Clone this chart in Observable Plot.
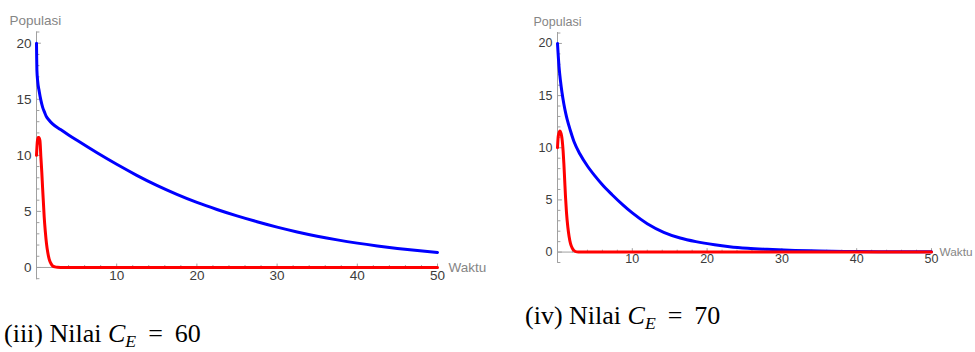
<!DOCTYPE html>
<html><head><meta charset="utf-8">
<script src="https://cdn.jsdelivr.net/npm/d3@7"></script>
<script src="https://cdn.jsdelivr.net/npm/@observablehq/plot@0.6"></script>
<style>
body{margin:0;background:#fff;}
#wrap{position:relative;width:975px;height:352px;overflow:hidden;background:#fff;}
.panel{position:absolute;top:0;}
.cap{position:absolute;font-family:"Liberation Serif","Times New Roman",serif;font-size:26px;line-height:26px;color:#000;white-space:nowrap;}
.cap i{font-style:italic;}
.cap sub{font-size:0.68em;vertical-align:-0.3em;line-height:0;}
.cap .eq{margin:0 12px;}
</style></head><body>
<div id="wrap">
 <div id="p1" class="panel" style="left:0px"></div>
 <div id="p2" class="panel" style="left:500px"></div>
 <div class="cap" style="left:4px;top:321px">(iii) Nilai <i>C</i><sub><i>E</i></sub><span class="eq">=</span>60</div>
 <div class="cap" style="left:525px;top:303px">(iv) Nilai <i>C</i><sub><i>E</i></sub><span class="eq">=</span>70</div>
</div>
<script>
// ---- Panel (iii): C_E = 60 ----
const tBlue60 = [0, 0.02, 0.05, 0.15, 0.34, 0.55, 0.76, 1.0, 1.2, 1.5, 2.0, 3, 4, 5, 7.5, 10, 12.5, 15, 17.5, 20, 22.5, 25, 27.5, 30, 32.5, 35, 37.5, 40, 42.5, 45, 47.5, 50];
const vBlue60 = [20, 18.8, 17.6, 16.6, 15.7, 14.9, 14.3, 13.85, 13.5, 13.2, 12.8, 12.3, 11.82, 11.36, 10.25, 9.2, 8.22, 7.32, 6.52, 5.8, 5.17, 4.6, 4.08, 3.6, 3.17, 2.79, 2.46, 2.17, 1.92, 1.7, 1.51, 1.34];
const tRed60 = [0, 0.1, 0.2, 0.3, 0.43, 0.55, 0.66, 0.76, 0.86, 0.96, 1.1, 1.25, 1.4, 1.58, 1.8, 2.0, 2.3, 2.6, 3, 5, 10, 20, 30, 40, 50];
const vRed60 = [10, 11.2, 11.6, 11.6, 11.3, 9.8, 8.5, 7.1, 5.8, 4.5, 3.2, 2.1, 1.35, 0.75, 0.35, 0.15, 0.05, 0.01, 0, 0, 0, 0, 0, 0, 0];

// ---- Panel (iv): C_E = 70 ----
const tBlue70 = [0, 0.2, 0.4, 0.6, 0.85, 1.1, 1.3, 1.7, 2.2, 3, 4, 5, 6, 7.3, 8.7, 10, 12, 14.2, 16.4, 18.5, 21, 23, 25.4, 28, 31, 35, 40, 45, 50];
const vBlue70 = [20, 17.8, 16.4, 15.3, 14.2, 13.3, 12.7, 11.7, 10.6, 9.4, 8.25, 7.3, 6.45, 5.5, 4.55, 3.75, 2.72, 1.9, 1.35, 1.0, 0.7, 0.52, 0.37, 0.26, 0.17, 0.1, 0.055, 0.03, 0.02];
const tRed70 = [0, 0.1, 0.3, 0.5, 0.63, 0.75, 0.85, 0.96, 1.07, 1.2, 1.38, 1.55, 1.74, 2.0, 2.2, 2.6, 3, 5, 10, 20, 30, 40, 50];
const vRed70 = [10, 11.1, 11.6, 11.3, 10.7, 9.7, 8.5, 6.9, 5.3, 3.8, 2.4, 1.5, 0.8, 0.35, 0.15, 0.02, 0, 0, 0, 0, 0, 0, 0];

// ---- Axes ----
const xMajorTicks = [10, 20, 30, 40, 50];
const xTickLabels = ["10", "20", "30", "40", "50"];
const xMinorTicks = [2, 4, 6, 8, 12, 14, 16, 18, 22, 24, 26, 28, 32, 34, 36, 38, 42, 44, 46, 48];
const yMajorTicks = [0, 5, 10, 15, 20];
const yTickLabels = ["0", "5", "10", "15", "20"];
const yMinorTicks = [-1, 1, 2, 3, 4, 6, 7, 8, 9, 11, 12, 13, 14, 16, 17, 18, 19, 21];
const xAxisLabel = "Waktu";
const yAxisLabel = "Populasi";
const xDomain = [0, 50];

const toRows = (ts, vs) => ts.map((t, i) => ({t, v: vs[i]}));

const axisColor = "#a0a0a0";
const tickLabelColor = "#3c3c3c";
const titleColor = "#858585";
const sansFont = "'Liberation Sans', Arial, sans-serif";
const tickShape = {draw(c, l) { c.moveTo(0, 0); c.lineTo(0, -l); }};

function panel(o) {
  const txt = {fontFamily: sansFont, fontSize: o.fontSize};
  return Plot.plot({
    width: o.width, height: o.height,
    marginLeft: o.marginLeft, marginRight: o.marginRight,
    marginTop: o.marginTop, marginBottom: o.marginBottom,
    x: {domain: xDomain, axis: null},
    y: {domain: o.yDomain, axis: null},
    style: {overflow: "visible", background: "transparent"},
    marks: [
      Plot.ruleX([0], {stroke: axisColor, strokeWidth: 1}),
      Plot.ruleY([0], {stroke: axisColor, strokeWidth: 1}),
      Plot.vector(xMinorTicks, {x: d => d, y: () => 0, length: 2, anchor: "start", shape: tickShape, stroke: axisColor, strokeWidth: 1}),
      Plot.vector(xMajorTicks, {x: d => d, y: () => 0, length: 3.5, anchor: "start", shape: tickShape, stroke: axisColor, strokeWidth: 1}),
      Plot.vector(yMinorTicks, {x: () => 0, y: d => d, length: 2.5, rotate: 90, anchor: "start", shape: tickShape, stroke: axisColor, strokeWidth: 1}),
      Plot.vector(yMajorTicks, {x: () => 0, y: d => d, length: 4, rotate: 90, anchor: "start", shape: tickShape, stroke: axisColor, strokeWidth: 1}),
      Plot.text(xMajorTicks, {...txt, x: d => d, frameAnchor: "bottom", text: (d, i) => xTickLabels[i], fill: tickLabelColor}),
      Plot.text(yMajorTicks, {...txt, y: d => d, frameAnchor: "left", textAnchor: "end", dx: -5, text: (d, i) => yTickLabels[i], fill: tickLabelColor}),
      Plot.text([yAxisLabel], {...txt, frameAnchor: "top-left", dx: o.popDx, dy: o.popDy, textAnchor: "start", text: d => d, fill: titleColor}),
      Plot.text([xAxisLabel], {...txt, fontSize: o.wakSize, x: () => xDomain[1], y: () => 0, dx: o.wakDx, textAnchor: "start", text: d => d, fill: titleColor}),
      Plot.line(o.blue, {x: "t", y: "v", stroke: "#0000ff", strokeWidth: 3, curve: "monotone-x"}),
      Plot.line(o.red, {x: "t", y: "v", stroke: "#ff0000", strokeWidth: 3, curve: "monotone-x"})
    ]
  });
}

document.getElementById("p1").appendChild(panel({
  blue: toRows(tBlue60, vBlue60), red: toRows(tRed60, vRed60),
  width: 500, height: 300, marginLeft: 36, marginRight: 63, marginTop: 31.5, marginBottom: 20.7,
  yDomain: [-1.1, 21], fontSize: 13.5, wakSize: 13.5, popDx: -27, popDy: -17, wakDx: 11
}));
document.getElementById("p2").appendChild(panel({
  blue: toRows(tBlue70, vBlue70), red: toRows(tRed70, vRed70),
  width: 475, height: 300, marginLeft: 57, marginRight: 44, marginTop: 32, marginBottom: 38,
  yDomain: [-1.0, 21.05], fontSize: 12.5, wakSize: 11.8, popDx: -24, popDy: -15, wakDx: 8
}));
</script>
</body></html>
